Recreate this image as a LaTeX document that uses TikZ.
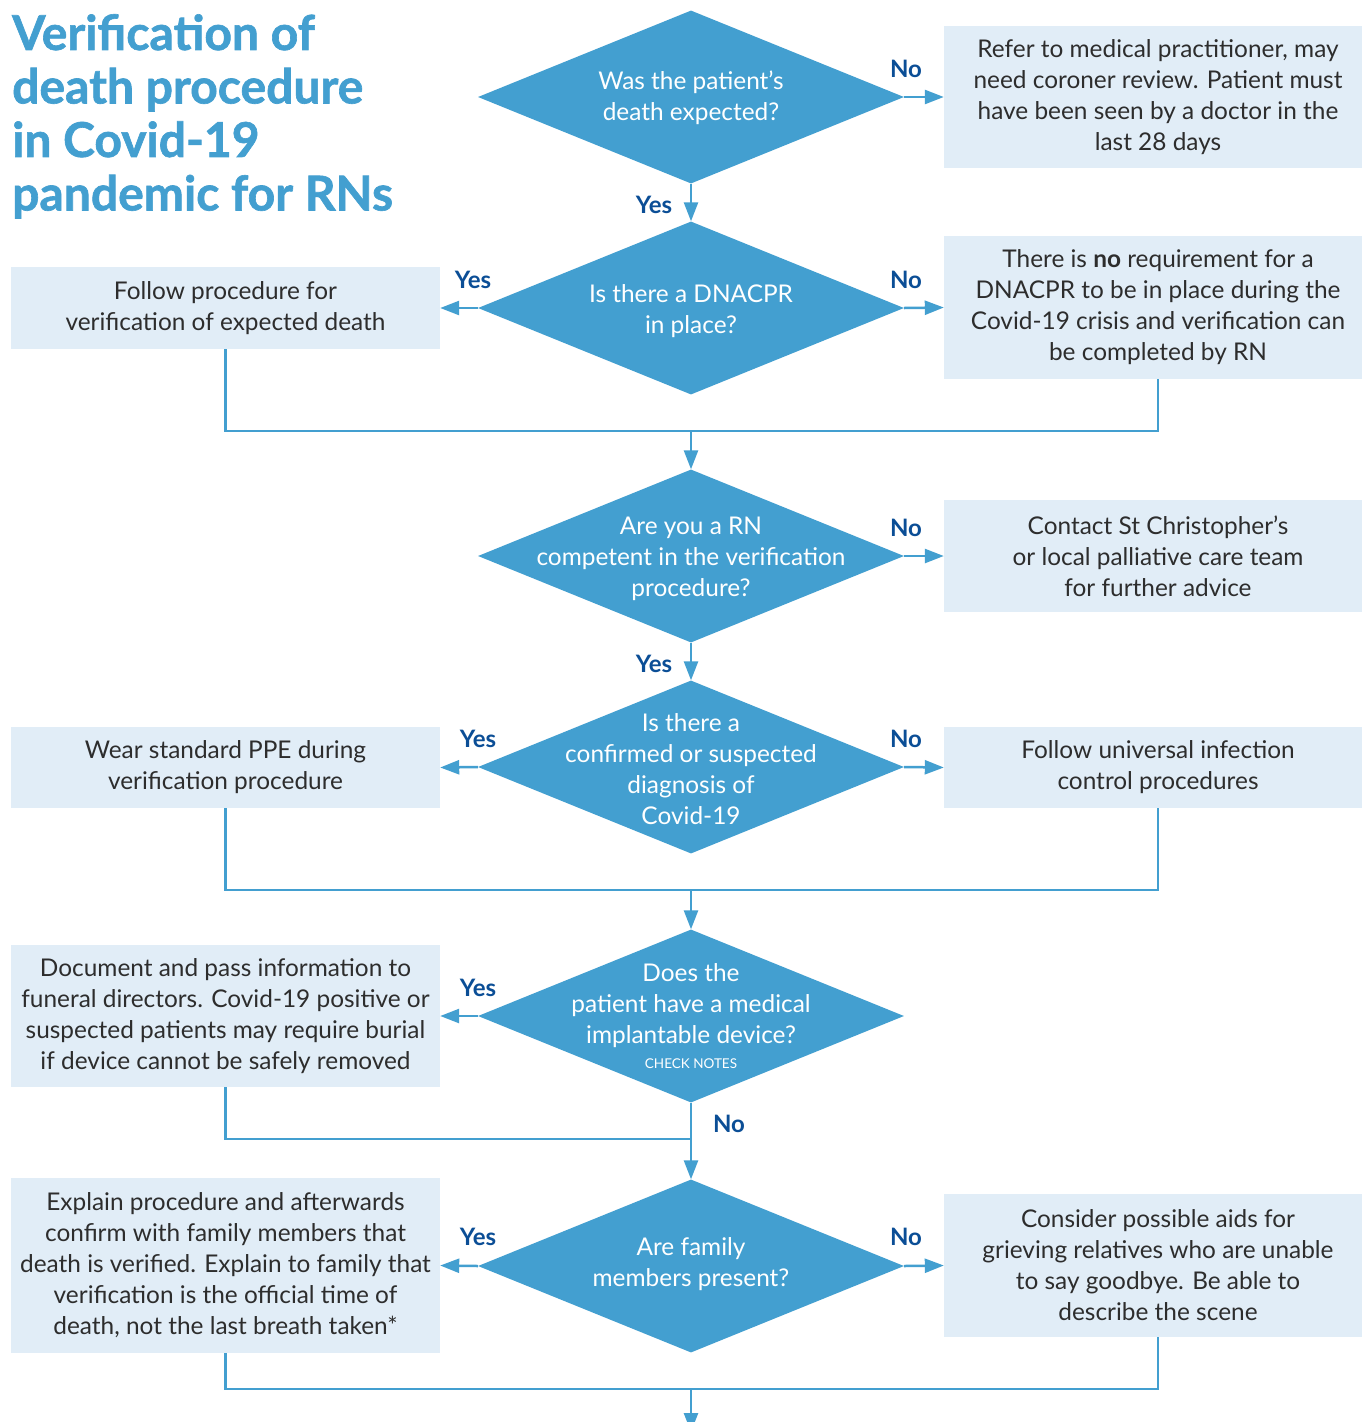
\documentclass[tikz,border=0pt]{standalone}
\usepackage{fontspec}
\setmainfont{Lato}
\newfontfamily\titlefont{Lato}[BoldFeatures={FakeBold=1.3}]
\usetikzlibrary{shapes.geometric,arrows.meta}
\definecolor{dblue}{RGB}{67,159,208}
\definecolor{boxfill}{RGB}{225,237,247}
\definecolor{lblue}{RGB}{11,78,150}
\definecolor{txt}{RGB}{45,45,45}
\begin{document}
\begin{tikzpicture}[x=1pt,y=-1pt,
  dia/.style={diamond,fill=dblue,draw=none,inner sep=0pt,minimum width=426pt,minimum height=173pt},
  dtext/.style={text=white,align=center,font=\fontsize{24.4}{31}\selectfont},
  boxL/.style={rectangle,fill=boxfill,draw=none,inner sep=0pt,minimum width=429pt,text=txt,align=center,font=\fontsize{24.4}{31}\selectfont},
  boxR/.style={rectangle,fill=boxfill,draw=none,inner sep=0pt,minimum width=428pt,text=txt,align=center,font=\fontsize{24.4}{31}\selectfont},
  lbl/.style={text=lblue,font=\fontsize{24}{26}\selectfont\bfseries,inner sep=0pt},
  conn/.style={draw=dblue,line width=2.5pt},
  arr/.style={conn,-{Triangle[length=19pt,width=14pt]}}
]
\useasboundingbox[fill=white] (0,0) rectangle (1362,1422);

% title
\node[anchor=north west,inner sep=0pt,text=dblue,align=left,font=\titlefont\fontsize{48}{53.5}\selectfont\bfseries] (title) at (12,14)
  {Verification of\\death procedure\\in Covid-19\\pandemic for RNs};

% diamonds
\node[dia] (d1) at (691,97) {};
\node[dtext] (t1) at (691,98) {Was the patient’s\\death expected?};
\node[dia] (d2) at (691,308) {};
\node[dtext] (t2) at (691,311) {Is there a DNACPR\\in place?};
\node[dia] (d3) at (691,556) {};
\node[dtext] (t3) at (691,559) {Are you a RN\\competent in the verification\\procedure?};
\node[dia] (d4) at (691,767) {};
\node[dtext] (t4) at (691,769) {Is there a\\confirmed or suspected\\diagnosis of\\Covid-19};
\node[dia] (d5) at (691,1016) {};
\node[dtext] (t5) at (691,1006) {Does the\\patient have a medical\\implantable device?};
\node[text=white,font=\fontsize{13.5}{15}\selectfont,inner sep=0pt] (t5b) at (691,1064) {CHECK NOTES};
\node[dia] (d6) at (691,1266) {};
\node[dtext] (t6) at (691,1264) {Are family\\members present?};

% boxes
\node[boxR,minimum height=142pt] (r1) at (1158,97) {Refer to medical practitioner, may\\need coroner review. Patient must\\have been seen by a doctor in the\\last 28 days};
\node[boxL,minimum height=82pt] (l2) at (225.5,308) {Follow procedure for\\verification of expected death};
\node[boxR,minimum height=143pt] (r2) at (1158,307.5) {There is \textbf{no} requirement for a\\DNACPR to be in place during the\\Covid-19 crisis and verification can\\be completed by RN};
\node[boxR,minimum height=112pt] (r3) at (1158,556) {Contact St Christopher’s\\or local palliative care team\\for further advice};
\node[boxL,minimum height=81pt] (l4) at (225.5,767.5) {Wear standard PPE during\\verification procedure};
\node[boxR,minimum height=81pt] (r4) at (1158,767.5) {Follow universal infection\\control procedures};
\node[boxL,minimum height=142pt] (l5) at (225.5,1016) {Document and pass information to\\funeral directors. Covid-19 positive or\\suspected patients may require burial\\if device cannot be safely removed};
\node[boxL,minimum height=175pt] (l6) at (225.5,1265.5) {Explain procedure and afterwards\\confirm with family members that\\death is verified. Explain to family that\\verification is the official time of\\death, not the last breath taken*};
\node[boxR,minimum height=143pt] (r6) at (1158,1265.5) {Consider possible aids for\\grieving relatives who are unable\\to say goodbye. Be able to\\describe the scene};

% junction coordinates
\coordinate (j1) at (691,431);
\coordinate (j2) at (691,890);
\coordinate (j3) at (691,1139);
\coordinate (j4) at (691,1389);
\coordinate (jend) at (691,1432);

% connectors
\draw[arr] (d1.east) -- (r1.west);
\draw[arr] (d1.south) -- (d2.north);
\draw[arr] (d2.west) -- (l2.east);
\draw[arr] (d2.east) -- (r2.west);
\draw[conn] (l2.south) |- (j1) -| (r2.south);
\draw[arr] (j1) -- (d3.north);
\draw[arr] (d3.east) -- (r3.west);
\draw[arr] (d3.south) -- (d4.north);
\draw[arr] (d4.west) -- (l4.east);
\draw[arr] (d4.east) -- (r4.west);
\draw[conn] (l4.south) |- (j2) -| (r4.south);
\draw[arr] (j2) -- (d5.north);
\draw[arr] (d5.west) -- (l5.east);
\draw[conn] (l5.south) |- (j3);
\draw[arr] (d5.south) -- (d6.north);
\draw[arr] (d6.west) -- (l6.east);
\draw[arr] (d6.east) -- (r6.west);
\draw[conn] (l6.south) |- (j4) -| (r6.south);
\draw[arr] (j4) -- (jend);

% labels
\node[lbl] (n1) at (906,69) {No};
\node[lbl] (y1) at (654,205) {Yes};
\node[lbl] (y2) at (473,280) {Yes};
\node[lbl] (n2) at (906,280) {No};
\node[lbl] (n3) at (906,528) {No};
\node[lbl] (y3) at (654,664) {Yes};
\node[lbl] (y4) at (478,739) {Yes};
\node[lbl] (n4) at (906,739) {No};
\node[lbl] (y5) at (478,988) {Yes};
\node[lbl] (n5) at (729,1124) {No};
\node[lbl] (y6) at (478,1237) {Yes};
\node[lbl] (n6) at (906,1237) {No};
\end{tikzpicture}
\end{document}
